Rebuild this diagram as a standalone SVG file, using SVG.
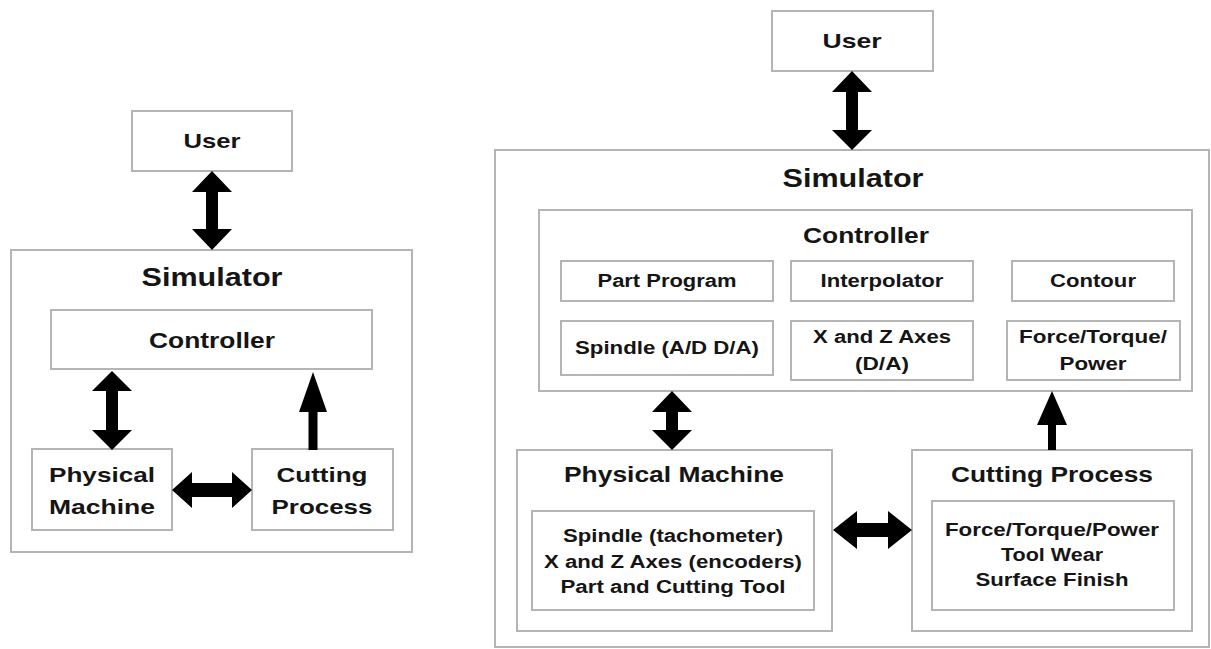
<svg xmlns="http://www.w3.org/2000/svg" width="1211" height="649" viewBox="0 0 1211 649">
<style>
.box{fill:none;stroke:#b4b4b4;stroke-width:2}
.t{font-family:"Liberation Sans",Arial,sans-serif;font-weight:bold;fill:#151515;text-anchor:middle}
.arr{fill:#000}
</style>
<rect width="1211" height="649" fill="#fff"/>
<!-- Left diagram -->
<g id="L-sim"><rect class="box" x="11" y="250" width="401" height="302"/><text class="t" x="212" y="286" font-size="25" textLength="141" lengthAdjust="spacingAndGlyphs">Simulator</text></g>
<g id="L-user"><rect class="box" x="132" y="111" width="160" height="60"/><text class="t" x="212" y="148" font-size="21" textLength="57" lengthAdjust="spacingAndGlyphs">User</text></g>
<g id="L-ctrl"><rect class="box" x="51" y="310" width="321" height="59"/><text class="t" x="212" y="348" font-size="22" textLength="126" lengthAdjust="spacingAndGlyphs">Controller</text></g>
<g id="L-pm"><rect class="box" x="32" y="449" width="140" height="81"/><text class="t" x="102" y="482" font-size="21" textLength="106" lengthAdjust="spacingAndGlyphs">Physical</text><text class="t" x="102" y="514" font-size="21" textLength="106" lengthAdjust="spacingAndGlyphs">Machine</text></g>
<g id="L-cp"><rect class="box" x="252" y="449" width="141" height="81"/><text class="t" x="322" y="482" font-size="21" textLength="91" lengthAdjust="spacingAndGlyphs">Cutting</text><text class="t" x="322" y="514" font-size="21" textLength="101" lengthAdjust="spacingAndGlyphs">Process</text></g>
<!-- Right diagram -->
<g id="R-sim"><rect class="box" x="495" y="150" width="714" height="497"/><text class="t" x="853" y="187" font-size="25" textLength="141" lengthAdjust="spacingAndGlyphs">Simulator</text></g>
<g id="R-user"><rect class="box" x="772" y="11" width="161" height="60"/><text class="t" x="852" y="48" font-size="21" textLength="59" lengthAdjust="spacingAndGlyphs">User</text></g>
<g id="R-ctrl"><rect class="box" x="539" y="210" width="653" height="181"/><text class="t" x="866" y="243" font-size="22" textLength="126" lengthAdjust="spacingAndGlyphs">Controller</text></g>
<g id="R-pp"><rect class="box" x="561" y="261" width="212" height="40"/><text class="t" x="667" y="287" font-size="18" textLength="139" lengthAdjust="spacingAndGlyphs">Part Program</text></g>
<g id="R-interp"><rect class="box" x="791" y="261" width="182" height="40"/><text class="t" x="882" y="287" font-size="18" textLength="123" lengthAdjust="spacingAndGlyphs">Interpolator</text></g>
<g id="R-contour"><rect class="box" x="1012" y="261" width="162" height="40"/><text class="t" x="1093" y="287" font-size="18" textLength="86" lengthAdjust="spacingAndGlyphs">Contour</text></g>
<g id="R-spindle"><rect class="box" x="561" y="321" width="212" height="54"/><text class="t" x="667" y="354" font-size="18" textLength="184" lengthAdjust="spacingAndGlyphs">Spindle (A/D D/A)</text></g>
<g id="R-axes"><rect class="box" x="791" y="321" width="182" height="59"/><text class="t" x="882" y="343" font-size="18" textLength="138" lengthAdjust="spacingAndGlyphs">X and Z Axes</text><text class="t" x="882" y="370" font-size="18" textLength="54" lengthAdjust="spacingAndGlyphs">(D/A)</text></g>
<g id="R-ftp"><rect class="box" x="1007" y="321" width="173" height="59"/><text class="t" x="1093" y="343" font-size="18" textLength="148" lengthAdjust="spacingAndGlyphs">Force/Torque/</text><text class="t" x="1093" y="370" font-size="18" textLength="67" lengthAdjust="spacingAndGlyphs">Power</text></g>
<g id="R-pm"><rect class="box" x="517" y="450" width="315" height="181"/><text class="t" x="674" y="482" font-size="22" textLength="220" lengthAdjust="spacingAndGlyphs">Physical Machine</text>
<rect class="box" x="532" y="511" width="282" height="99"/>
<text class="t" x="673" y="542" font-size="18" textLength="220" lengthAdjust="spacingAndGlyphs">Spindle (tachometer)</text>
<text class="t" x="673" y="568" font-size="18" textLength="258" lengthAdjust="spacingAndGlyphs">X and Z Axes (encoders)</text>
<text class="t" x="673" y="593" font-size="18" textLength="225" lengthAdjust="spacingAndGlyphs">Part and Cutting Tool</text></g>
<g id="R-cp"><rect class="box" x="912" y="450" width="280" height="181"/><text class="t" x="1052" y="482" font-size="22" textLength="202" lengthAdjust="spacingAndGlyphs">Cutting Process</text>
<rect class="box" x="932" y="501" width="242" height="109"/>
<text class="t" x="1052" y="536" font-size="18" textLength="214" lengthAdjust="spacingAndGlyphs">Force/Torque/Power</text>
<text class="t" x="1052" y="561" font-size="18" textLength="102" lengthAdjust="spacingAndGlyphs">Tool Wear</text>
<text class="t" x="1052" y="586" font-size="18" textLength="153" lengthAdjust="spacingAndGlyphs">Surface Finish</text></g>
<!-- Connectors -->
<g id="connectors" class="arr">
<polygon points="212,171 232,192 218,192 218,229 232,229 212,250 192,229 206,229 206,192 192,192"/>
<polygon points="112,371 132,391 118,391 118,430 132,430 112,450 92,430 106,430 106,391 92,391"/>
<polygon points="313,372 327,412 317.5,412 317.5,450 308.5,450 308.5,412 299,412"/>
<polygon points="172,490 192,472 192,483 232,483 232,472 252,490 232,508 232,497 192,497 192,508"/>
<polygon points="852,71 872,92 858,92 858,130 872,130 852,150 832,130 846,130 846,92 832,92"/>
<polygon points="672,391 692,412 678,412 678,430 692,430 672,450 652,430 666,430 666,412 652,412"/>
<polygon points="1052,391 1067,425 1056,425 1056,450 1048,450 1048,425 1037,425"/>
<polygon points="833,530 857,511 857,523 888,523 888,511 912,530 888,549 888,537 857,537 857,549"/>
</g>
</svg>
